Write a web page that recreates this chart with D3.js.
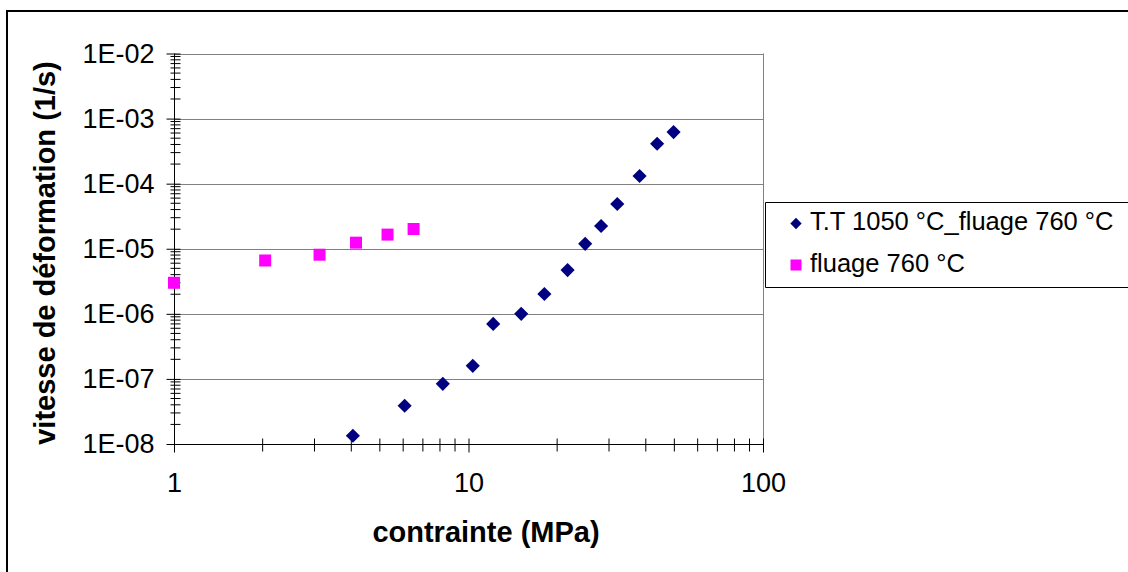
<!DOCTYPE html>
<html><head><meta charset="utf-8">
<script src="https://cdn.jsdelivr.net/npm/d3@7"></script>
<style>body{margin:0;background:#fff}svg{display:block}text{font-family:Arial,"Liberation Sans",sans-serif}</style>
</head><body><svg id="c" width="1128" height="572"></svg>
<script>
// Series: T.T 1050 °C_fluage 760 °C
const ttStress = [4.05, 6.07, 8.18, 10.34, 12.13, 15.1, 18.1, 21.7, 24.9, 28.2, 32.0, 38.1, 43.7, 49.7];
const ttRate   = [1.34e-8, 3.87e-8, 8.4e-8, 1.59e-7, 7.0e-7, 1.0e-6, 2.02e-6, 4.7e-6, 1.19e-5, 2.24e-5, 4.87e-5, 1.31e-4, 4.1e-4, 6.2e-4];
// Series: fluage 760 °C
const flStress = [1.0, 2.04, 3.12, 4.15, 5.31, 6.51];
const flRate   = [3.0e-6, 6.6e-6, 8.1e-6, 1.24e-5, 1.65e-5, 2.01e-5];
const seriesNames = ["T.T 1050 °C_fluage 760 °C", "fluage 760 °C"];
const xTickValues = [1, 10, 100];
const yTickValues = [1e-8, 1e-7, 1e-6, 1e-5, 1e-4, 1e-3, 1e-2];
const yTickLabels = ["1E-08", "1E-07", "1E-06", "1E-05", "1E-04", "1E-03", "1E-02"];
const xTitle = "contrainte (MPa)";
const yTitle = "vitesse de déformation (1/s)";

const svg = d3.select("#c");
const L = 174, R = 763, T = 53.5, B = 444;
const x = d3.scaleLog().domain([1, 100]).range([L, R]);
const y = d3.scaleLog().domain([1e-8, 1e-2]).range([B, T]);

// outer chart border
svg.append("path").attr("d", `M7,572V11H1128`).attr("fill", "none").attr("stroke", "#000").attr("stroke-width", 2);

// gridlines
svg.append("g").selectAll("line").data(yTickValues.slice(1)).join("line")
  .attr("x1", L).attr("x2", R).attr("y1", d => Math.round(y(d)) + 0.5).attr("y2", d => Math.round(y(d)) + 0.5)
  .attr("stroke", "#808080").attr("stroke-width", 1);
// right plot border
svg.append("line").attr("x1", R + 0.5).attr("x2", R + 0.5).attr("y1", T).attr("y2", B).attr("stroke", "#808080");

// minor ticks
const yMinor = [];
for (let e = -8; e < -2; e++) for (let m = 2; m <= 9; m++) yMinor.push(m * Math.pow(10, e));
const xMinor = [];
for (let e = 0; e < 2; e++) for (let m = 2; m <= 9; m++) xMinor.push(m * Math.pow(10, e));

// y axis
const yAxis = d3.axisLeft(y).tickValues(yTickValues).tickFormat((d, i) => yTickLabels[i]).tickSize(8).tickPadding(12);
const gy = svg.append("g").attr("transform", `translate(${L + 0.5},0)`).call(yAxis);
gy.select(".domain").attr("stroke", "#000").attr("d", `M0,${T}V${B}`);
gy.selectAll(".tick line").attr("x1", 6).attr("x2", -8).attr("stroke", "#000");
gy.selectAll(".tick text").attr("font-size", 27).attr("fill", "#000").attr("font-family", "Arial, 'Liberation Sans', sans-serif");
svg.append("g").attr("transform", `translate(${L + 0.5},0)`).selectAll("line").data(yMinor).join("line")
  .attr("x1", -4).attr("x2", 6).attr("y1", d => y(d)).attr("y2", d => y(d)).attr("stroke", "#000");

// x axis
const xAxis = d3.axisBottom(x).tickValues(xTickValues).tickFormat(d3.format("d")).tickSize(8).tickPadding(20);
const gx = svg.append("g").attr("transform", `translate(0,${B + 0.5})`).call(xAxis);
gx.select(".domain").attr("stroke", "#000").attr("d", `M${L},0H${R}`);
gx.selectAll(".tick line").attr("y1", -6).attr("y2", 8).attr("stroke", "#000");
gx.selectAll(".tick text").attr("font-size", 27).attr("fill", "#000").attr("font-family", "Arial, 'Liberation Sans', sans-serif");
svg.append("g").attr("transform", `translate(0,${B + 0.5})`).selectAll("line").data(xMinor).join("line")
  .attr("x1", d => x(d)).attr("x2", d => x(d)).attr("y1", -6).attr("y2", 7).attr("stroke", "#000");

// axis titles
svg.append("text").attr("x", 486).attr("y", 542).attr("text-anchor", "middle")
  .attr("font-size", 29).attr("font-weight", "bold").text(xTitle);
svg.append("text").attr("transform", `translate(55,253) rotate(-90)`).attr("text-anchor", "middle")
  .attr("font-size", 29).attr("font-weight", "bold").text(yTitle);

// markers
const navy = "#000080", magenta = "#FF00FF";
svg.append("g").selectAll("rect").data(d3.zip(flStress, flRate)).join("rect")
  .attr("x", d => x(d[0]) - 6).attr("y", d => y(d[1]) - 6).attr("width", 12).attr("height", 12).attr("fill", magenta);
svg.append("g").selectAll("path").data(d3.zip(ttStress, ttRate)).join("path")
  .attr("transform", d => `translate(${x(d[0])},${y(d[1])}) rotate(45)`)
  .attr("d", "M-5,-5H5V5H-5Z").attr("fill", navy);

// legend
svg.append("path").attr("d", "M1130,202.5H765.5V287.5H1130").attr("fill", "none").attr("stroke", "#000").attr("stroke-width", 1);
const lg = svg.append("g");
lg.append("path").attr("transform", "translate(796,223.5) rotate(45)").attr("d", "M-4,-4H4V4H-4Z").attr("fill", navy);
lg.append("rect").attr("x", 790.5).attr("y", 259.5).attr("width", 11).attr("height", 11).attr("fill", magenta);
lg.append("text").attr("x", 810).attr("y", 230).attr("font-size", 25.5).text(seriesNames[0]);
lg.append("text").attr("x", 810).attr("y", 272).attr("font-size", 25.5).text(seriesNames[1]);
</script></body></html>
